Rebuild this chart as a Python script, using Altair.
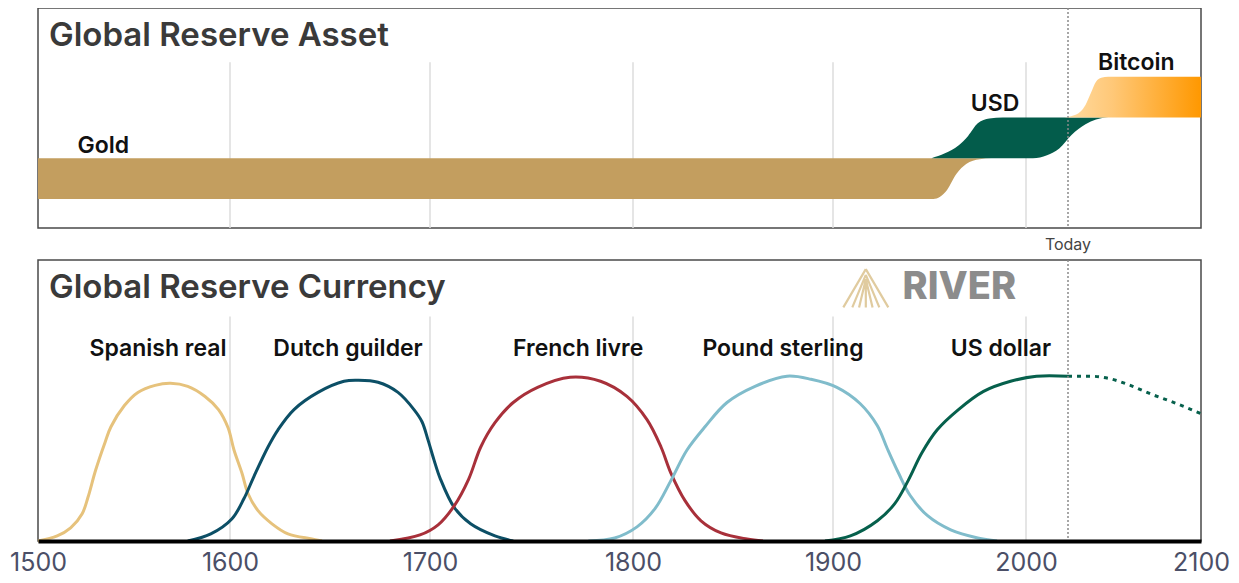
import altair as alt
import pandas as pd

# ---------------- data ----------------
x_ticks = [1500, 1600, 1700, 1800, 1900, 2000, 2100]
grid_years = [1600, 1700, 1800, 1900, 2000]
today_year = 2024

# Top panel: bands (year, lower edge, upper edge) in panel units (0..227)
gold_years = [1500, 1952, 1959, 1964, 1969, 1976, 1982]
gold_lo = [30, 30, 39, 56, 66, 71, 72]
gold_hi = [72, 72, 72, 72, 72, 72, 72]

usd_years = [1951, 1958, 1965, 1970, 1975, 1981, 1988, 2004, 2012, 2019, 2026, 2034, 2040, 2047]
usd_lo = [72, 72, 72, 72, 72, 72, 72, 72, 75, 82, 96, 107, 112, 114]
usd_hi = [72, 77, 85, 95, 108, 113, 114, 114, 114, 114, 114, 114, 114, 114]

btc_years = [2022, 2027, 2031, 2034, 2037, 2040, 2043, 2047, 2100]
btc_lo = [114, 114, 114, 114, 114, 114, 114, 114, 114]
btc_hi = [114, 116, 120, 127, 139, 151, 155, 156, 156]

asset_labels = ["Gold", "USD", "Bitcoin"]
asset_label_years = [1534, 1984, 2063]
asset_label_vals = [85, 128, 170]

# Bottom panel: currency shares (panel units 0..278)
spanish_years = [1500, 1510, 1517, 1523, 1526, 1530, 1535, 1538, 1545, 1552, 1561, 1569,
                 1578, 1587, 1594, 1599, 1602, 1606, 1609, 1614, 1621, 1629, 1641, 1646]
spanish_vals = [0, 5, 13, 27, 43, 70, 98, 113, 134, 147, 154, 156,
                153, 143, 130, 112, 90, 67, 47, 30, 17, 7, 2, 0]

dutch_years = [1578, 1590, 1601, 1607, 1612, 1619, 1624, 1632, 1644, 1657, 1664, 1674,
               1684, 1692, 1696, 1699, 1702, 1705, 1712, 1720, 1732, 1741]
dutch_vals = [0, 7, 22, 42, 64, 93, 110, 130, 147, 158, 159, 157,
              147, 130, 118, 100, 80, 62, 33, 17, 5, 0]

french_years = [1680, 1695, 1704, 1712, 1719, 1725, 1732, 1741, 1753, 1769, 1784, 1797,
                1807, 1814, 1819, 1826, 1834, 1844, 1857, 1865]
french_vals = [0, 6, 16, 35, 61, 93, 117, 137, 152, 162, 158, 143,
               120, 93, 67, 40, 20, 8, 2, 0]

pound_years = [1778, 1791, 1802, 1811, 1819, 1827, 1836, 1847, 1861, 1877, 1889, 1902,
               1914, 1923, 1928, 1934, 1940, 1949, 1961, 1975, 1985]
pound_vals = [0, 3, 14, 32, 60, 90, 113, 137, 153, 163, 160, 152,
              136, 114, 92, 67, 45, 25, 11, 3, 0]

usdollar_years = [1896, 1909, 1923, 1932, 1939, 1946, 1954, 1965, 1978, 1992, 2006, 2024]
usdollar_vals = [0, 5, 20, 37, 60, 87, 110, 130, 148, 158, 163, 163]

proj_years = [2024, 2037, 2047, 2058, 2072, 2083, 2100]
proj_vals = [163, 163, 161, 155, 145, 138, 126]

currency_names = ["Spanish real", "Dutch guilder", "French livre", "Pound sterling", "US dollar"]
currency_colors = ["#e6c27c", "#0c4f66", "#a8303a", "#80bccb", "#06604c"]
currency_label_years = [1562.5, 1659, 1773, 1875, 1987]
currency_label_val = 190

# ---------------- frames ----------------
W = 1163
H1 = 220
H2 = 281
FONT = "Inter"

xscale = alt.Scale(domain=x_ticks, range=[0, 192, 392, 595, 795, 988, 1163], nice=False, zero=False)
yscale_top = alt.Scale(domain=[0, 227], nice=False, zero=False)
yscale_bot = alt.Scale(domain=[0, 278], nice=False, zero=False)

bottom_axis = alt.Axis(values=x_ticks, format="d", labelFontSize=25, labelColor="#4b4f67",
                       labelFont=FONT, ticks=False, grid=False, domainColor="#000000",
                       domainWidth=4, labelPadding=9, labelFlush=False, title=None, zindex=1)


def X(field, axis=None):
    if axis is None:
        return alt.X(field, type="quantitative", scale=xscale, axis=None)
    return alt.X(field, type="quantitative", scale=xscale, axis=axis)


def band(years, lo, hi):
    return pd.DataFrame({"year": years, "lo": lo, "hi": hi})


# ---------------- top panel ----------------
grid_top = alt.Chart(pd.DataFrame({"year": grid_years, "y0": 0, "y1": 171})).mark_rule(
    color="#dcdcdc", strokeWidth=1.5).encode(
    x=X("year"), y=alt.Y("y0:Q", scale=yscale_top, axis=None), y2="y1:Q")

gold = alt.Chart(band(gold_years, gold_lo, gold_hi)).mark_area(
    interpolate="monotone", color="#c39e5f").encode(
    x=X("year"), y=alt.Y("lo:Q", scale=yscale_top, axis=None), y2="hi:Q")

usd = alt.Chart(band(usd_years, usd_lo, usd_hi)).mark_area(
    interpolate="monotone", color="#035c4b").encode(
    x=X("year"), y=alt.Y("lo:Q", scale=yscale_top, axis=None), y2="hi:Q")

btc_grad = {
    "gradient": "linear", "x1": 0, "x2": 1, "y1": 0, "y2": 0,
    "stops": [
        {"offset": 0, "color": "#ffdca3"},
        {"offset": 0.35, "color": "#ffc878"},
        {"offset": 1, "color": "#ff9800"},
    ],
}
btc = alt.Chart(band(btc_years, btc_lo, btc_hi)).mark_area(
    interpolate="monotone", color=btc_grad).encode(
    x=X("year"), y=alt.Y("lo:Q", scale=yscale_top, axis=None), y2="hi:Q")

today_df = pd.DataFrame({"year": [today_year], "label": ["Today"]})
today_top = alt.Chart(today_df).mark_rule(
    color="#8a8a8a", strokeWidth=1.5, strokeDash=[2, 2]).encode(x=X("year"))

today_text = alt.Chart(today_df).mark_text(
    font=FONT, fontSize=16, color="#444444", baseline="middle").encode(
    x=X("year"), y=alt.value(H1 + 17), text="label:N")

asset_lab = alt.Chart(pd.DataFrame({"year": asset_label_years, "v": asset_label_vals,
                                    "label": asset_labels})).mark_text(
    font=FONT, fontSize=23, fontWeight=600, color="#111111", baseline="middle").encode(
    x=X("year"), y=alt.Y("v:Q", scale=yscale_top, axis=None), text="label:N")

title_top = alt.Chart(pd.DataFrame({"t": ["Global Reserve Asset"]})).mark_text(
    font=FONT, fontSize=33, fontWeight=600, color="#3a3a3a", align="left",
    baseline="middle").encode(x=alt.value(11), y=alt.value(28), text="t:N")

top = alt.layer(grid_top, gold, usd, btc, today_top, asset_lab, title_top, today_text).properties(
    width=W, height=H1)

# ---------------- bottom panel ----------------
grid_bot = alt.Chart(pd.DataFrame({"year": grid_years, "y0": 0, "y1": 222})).mark_rule(
    color="#dcdcdc", strokeWidth=1.5).encode(
    x=X("year", bottom_axis), y=alt.Y("y0:Q", scale=yscale_bot, axis=None), y2="y1:Q")

series = [
    ("Spanish real", spanish_years, spanish_vals),
    ("Dutch guilder", dutch_years, dutch_vals),
    ("French livre", french_years, french_vals),
    ("Pound sterling", pound_years, pound_vals),
    ("US dollar", usdollar_years, usdollar_vals),
]
rows = []
for name, ys, vs in series:
    for yr, v in zip(ys, vs):
        rows.append({"currency": name, "year": yr, "v": v})
curves_df = pd.DataFrame(rows)

color_scale = alt.Scale(domain=currency_names, range=currency_colors)

curves = alt.Chart(curves_df).mark_line(interpolate="catmull-rom", strokeWidth=3).encode(
    x=X("year", bottom_axis),
    y=alt.Y("v:Q", scale=yscale_bot, axis=None),
    color=alt.Color("currency:N", scale=color_scale, legend=None),
)

proj = alt.Chart(pd.DataFrame({"year": proj_years, "v": proj_vals})).mark_line(
    interpolate="monotone", strokeWidth=3, strokeDash=[4, 5], color="#06604c").encode(
    x=X("year", bottom_axis), y=alt.Y("v:Q", scale=yscale_bot, axis=None))

today_bot = alt.Chart(today_df).mark_rule(
    color="#8a8a8a", strokeWidth=1.5, strokeDash=[2, 2]).encode(x=X("year", bottom_axis))

cur_lab = alt.Chart(pd.DataFrame({"year": currency_label_years,
                                  "v": [currency_label_val] * len(currency_names),
                                  "label": currency_names})).mark_text(
    font=FONT, fontSize=23, fontWeight=600, color="#111111", baseline="middle").encode(
    x=X("year", bottom_axis), y=alt.Y("v:Q", scale=yscale_bot, axis=None), text="label:N")

title_bot = alt.Chart(pd.DataFrame({"t": ["Global Reserve Currency"]})).mark_text(
    font=FONT, fontSize=33, fontWeight=600, color="#3a3a3a", align="left",
    baseline="middle").encode(x=alt.value(11), y=alt.value(28), text="t:N")

logo_df = pd.DataFrame({"year": [1917], "v": [250]})
logo_icon = alt.Chart(logo_df).mark_point(
    shape="M0,-0.85L-1,0.85M0,-0.85L1,0.85M0,-0.6L-0.6,0.85M0,-0.6L0.6,0.85M0,-0.4L-0.3,0.85M0,-0.4L0.3,0.85M0,-0.25L0,0.85",
    filled=False, color="#e0cb9f", strokeWidth=2.2, size=2025, opacity=1).encode(
    x=X("year", bottom_axis), y=alt.Y("v:Q", scale=yscale_bot, axis=None))

logo_text = alt.Chart(pd.DataFrame({"year": [1936], "v": [250], "t": ["RIVER"]})).mark_text(
    font=FONT, fontSize=38, fontWeight=800, color="#8c8c8c", align="left",
    baseline="middle").encode(
    x=X("year", bottom_axis), y=alt.Y("v:Q", scale=yscale_bot, axis=None), text="t:N")

bottom = alt.layer(grid_bot, curves, proj, today_bot, cur_lab, title_bot, logo_icon,
                   logo_text).properties(width=W, height=H2)

chart = alt.vconcat(top, bottom, spacing=4).properties(
    padding={"left": 0, "top": -2, "right": 0, "bottom": 0}
).configure(font=FONT).configure_view(stroke="#4a4a4a", strokeWidth=1.5)

chart.save("out.html", embed_options={"renderer": "svg", "actions": False})
